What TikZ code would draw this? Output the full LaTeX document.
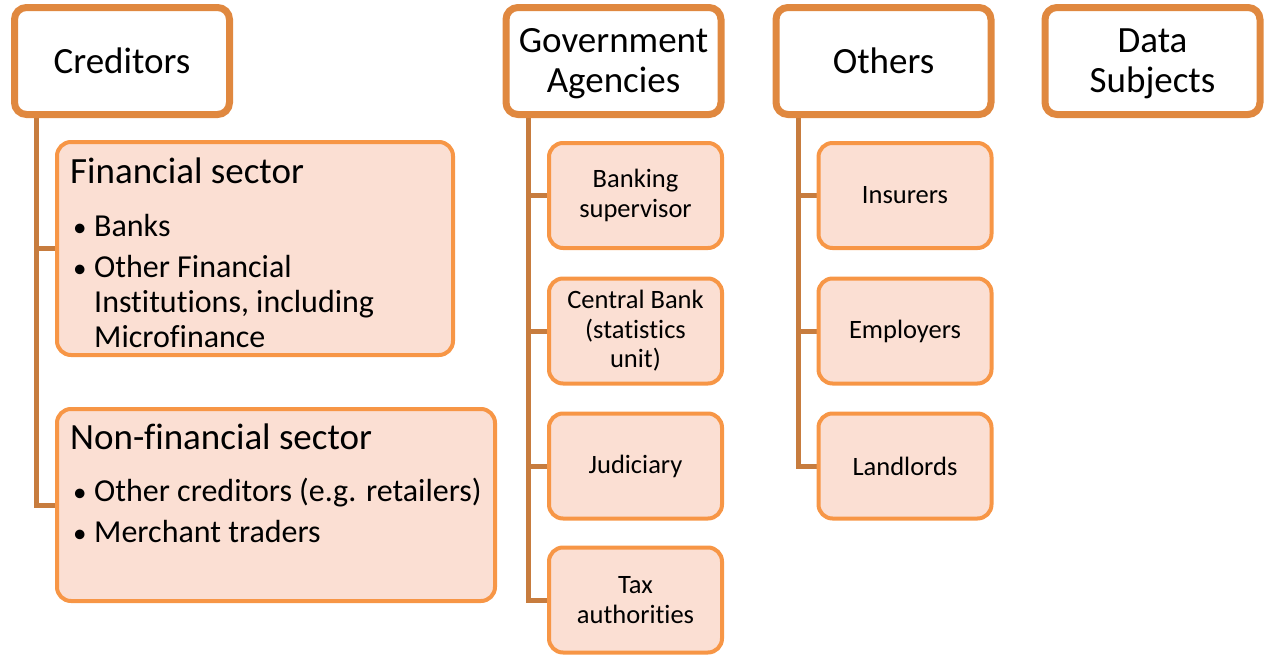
\documentclass[tikz,border=0pt]{standalone}
\usepackage{fontspec}
\setmainfont{Carlito}[Ligatures=NoCommon]
\usetikzlibrary{shadows,backgrounds}
\definecolor{topc}{HTML}{E0883F}
\definecolor{subc}{HTML}{F79646}
\definecolor{subfill}{HTML}{FBDFD3}
\definecolor{connc}{HTML}{C77C3E}
\begin{document}
\begin{tikzpicture}[x=1pt,y=-1pt,
  topbox/.style={draw=topc, line width=7pt, rounded corners=12pt, fill=white,
    minimum width=215pt, minimum height=107pt, inner sep=0pt, align=center,
    font=\fontsize{37}{40}\selectfont,
    drop shadow={shadow xshift=1pt, shadow yshift=-3pt, opacity=0.25, fill=black}},
  subbox/.style={draw=subc, line width=4pt, rounded corners=14pt, fill=subfill, inner sep=0pt},
  childbox/.style={subbox, minimum width=173pt, minimum height=105pt, align=center,
    font=\fontsize{26.5}{29.5}\selectfont},
  conn/.style={draw=connc, line width=5pt},
  ttl/.style={anchor=base west, inner sep=0pt, font=\fontsize{37}{40}\selectfont},
  itm/.style={anchor=base west, inner sep=0pt, font=\fontsize{32}{35}\selectfont},
  blt/.style={anchor=base west, inner sep=0pt, font=\fontsize{27}{30}\selectfont}
]
\useasboundingbox (0,0) rectangle (1264,656);

% top-level boxes
\node[topbox] (cred) at (122,61) {Creditors};
\node[topbox] (gov) at (613.5,61) {\rule{0pt}{30pt}Government\\Agencies};
\node[topbox] (oth) at (883.5,61) {Others};
\node[topbox] (data) at (1152.5,61) {\rule{0pt}{30pt}Data\\Subjects};

% creditor sub-boxes
\node[subbox, minimum width=396pt, minimum height=213pt] (fin) at (255,248.5) {};
\node[subbox, minimum width=438pt, minimum height=192pt] (nonfin) at (276,505) {};

% government children
\node[childbox] (bank) at (635.5,195.5) {Banking\\supervisor};
\node[childbox] (cb) at (635.5,331) {Central Bank\\(statistics\\unit)};
\node[childbox] (jud) at (635.5,466) {Judiciary};
\node[childbox] (tax) at (635.5,600) {Tax\\authorities};

% others children
\node[childbox] (ins) at (905,195.5) {Insurers};
\node[childbox] (emp) at (905,331) {Employers};
\node[childbox] (land) at (905,466) {Landlords};

% connectors (behind the boxes)
\begin{scope}[on background layer]
\draw[conn] ([xshift=25pt]cred.south west) |- (fin.west);
\draw[conn] ([xshift=25pt]cred.south west) |- (nonfin.west);
\draw[conn] ([xshift=26pt]gov.south west) |- (bank.west);
\draw[conn] ([xshift=26pt]gov.south west) |- (cb.west);
\draw[conn] ([xshift=26pt]gov.south west) |- (jud.west);
\draw[conn] ([xshift=26pt]gov.south west) |- (tax.west);
\draw[conn] ([xshift=26pt]oth.south west) |- (ins.west);
\draw[conn] ([xshift=26pt]oth.south west) |- (emp.west);
\draw[conn] ([xshift=26pt]oth.south west) |- (land.west);
\end{scope}

% financial sector text
\node[ttl] (fint) at (70,183) {Financial sector};
\node[blt] (fb1) at (73,236) {\textbullet};
\node[itm] (fi1) at (94,236) {Banks};
\node[blt] (fb2) at (73,277) {\textbullet};
\node[itm] (fi2) at (94,277) {Other Financial};
\node[itm] (fi3) at (94,312) {Institutions, including};
\node[itm] (fi4) at (94,347) {Microfinance};

% non-financial sector text
\node[ttl] (nft) at (70,449) {Non-financial sector};
\node[blt] (nb1) at (73,501) {\textbullet};
\node[itm] (ni1) at (94,501) {Other creditors (e.g. retailers)};
\node[blt] (nb2) at (73,542) {\textbullet};
\node[itm] (ni2) at (94,542) {Merchant traders};
\end{tikzpicture}
\end{document}
